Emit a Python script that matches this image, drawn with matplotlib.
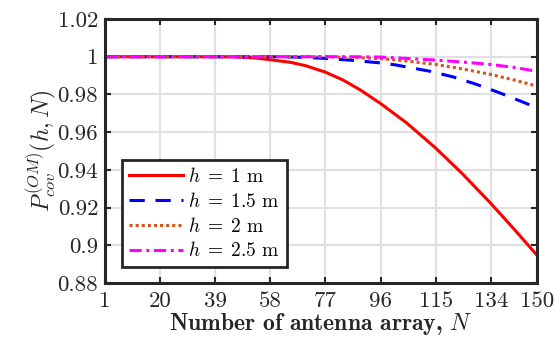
import matplotlib
matplotlib.use('Agg')
import matplotlib.pyplot as plt

# data
N_h1 = [1, 20, 39, 46, 53, 58, 65, 70, 77, 83, 89, 96, 105, 115, 124, 134, 142, 150]
p_h1 = [1, 1, 1, 0.9999, 0.9993, 0.9984, 0.997, 0.9953, 0.9918, 0.9877, 0.9824,
        0.9752, 0.9649, 0.9516, 0.9383, 0.9223, 0.9087, 0.8947]
N_h15 = [1, 20, 39, 58, 67, 77, 87, 96, 101, 113, 121, 129, 137, 146, 150]
p_h15 = [1, 1, 1, 1, 0.9998, 0.9991, 0.998, 0.9967, 0.9957, 0.9923, 0.9893, 0.9854,
         0.9809, 0.9754, 0.9728]
N_h2 = [1, 20, 39, 58, 77, 86, 96, 105, 115, 124, 134, 142, 150]
p_h2 = [1, 1, 1, 1, 1, 0.9996, 0.999, 0.9977, 0.9959, 0.9936, 0.9906, 0.9877, 0.9844]
N_h25 = [1, 20, 39, 58, 77, 86, 96, 105, 115, 124, 134, 142, 150]
p_h25 = [1, 1, 1, 1, 1, 1, 0.9998, 0.9991, 0.9982, 0.9972, 0.9959, 0.9943, 0.9923]
labels = [r'$h\;=\;1$ m', r'$h\;=\;1.5$ m', r'$h\;=\;2$ m', r'$h\;=\;2.5$ m']
xticks = [1, 20, 39, 58, 77, 96, 115, 134, 150]
yticks = [0.88, 0.9, 0.92, 0.94, 0.96, 0.98, 1.0, 1.02]
ytick_labels = ['0.88', '0.9', '0.92', '0.94', '0.96', '0.98', '1', '1.02']

plt.rcParams['font.family'] = 'cmr10'
plt.rcParams['mathtext.fontset'] = 'cm'
plt.rcParams['axes.unicode_minus'] = False
dark = '#262626'

fig = plt.figure(figsize=(5.56, 3.39), dpi=100)
ax = fig.add_axes([0.189, 0.165, 0.777, 0.779])

ax.plot(N_h1, p_h1, color='#ff0000', lw=2.2, label=labels[0])
ax.plot(N_h15, p_h15, color='#0000ff', lw=2.2, ls=(0, (5, 3.5)), label=labels[1])
ax.plot(N_h2, p_h2, color='#d95319', lw=2.2, ls=(0, (1, 1)), label=labels[2])
ax.plot(N_h25, p_h25, color='#ff00ff', lw=2.2, ls=(0, (4, 1.5, 1, 1.5)), label=labels[3])

ax.set_xlim(1, 150)
ax.set_ylim(0.88, 1.02)
ax.set_xticks(xticks)
ax.set_xticklabels([str(t) for t in xticks])
ax.set_yticks(yticks)
ax.set_yticklabels(ytick_labels)
ax.tick_params(direction='in', top=True, right=True, length=4, width=1.5,
               colors=dark, labelsize=16.5, pad=5)
ax.tick_params(axis='x', pad=6)
ax.grid(True, color='#e0e0e0', lw=1.5)
ax.set_axisbelow(True)
for s in ax.spines.values():
    s.set_linewidth(2.2)
    s.set_color(dark)

ax.set_xlabel(r'Number of antenna array, $N$', fontsize=17,
              family='cmb10', color=dark, labelpad=0)
ax.set_ylabel(r'$P_{cov}^{(OM)}(h,N)$', fontsize=17, color=dark, labelpad=0)

leg = ax.legend(loc='lower left', bbox_to_anchor=(0.039, 0.06), fontsize=14,
                handlelength=2.8, handletextpad=0.25, labelspacing=0.3,
                borderpad=0.35, borderaxespad=0, fancybox=False, framealpha=1,
                edgecolor=dark)
leg.get_frame().set_linewidth(2)

fig.savefig('out.png', dpi=100)
